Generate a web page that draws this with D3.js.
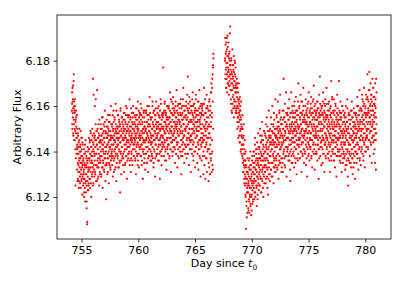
<!DOCTYPE html>
<html>
<head>
<meta charset="utf-8">
<script src="https://cdnjs.cloudflare.com/ajax/libs/d3/7.8.5/d3.min.js"></script>
<style>
  html, body { margin: 0; padding: 0; background: #fff; }
  svg { display: block; font-family: "DejaVu Sans", sans-serif; }
</style>
</head>
<body>
<svg id="chart" width="407" height="285"></svg>
<script>
// ---- Data ----
// Sampling step of each series (days); the B series sit half a step after the A series
const cadence = 1 / 48;
// Start time of each observation segment (days since t0)
const segmentStarts = [754.15, 767.64];
// Segment 1 (754.15 .. 766.62), samples A
const fluxSeg1A = [
6.158,6.166,6.150,6.162,6.155,6.169,6.147,6.159,6.174,6.152,6.160,6.145,6.157,6.163,6.149,6.125,6.154,6.141,6.158,6.151,6.146,6.156,6.143,6.150,
6.141,6.135,6.148,6.131,6.139,6.144,6.127,6.136,6.150,6.133,6.129,6.142,6.137,6.124,6.140,6.132,6.146,6.128,6.135,6.138,6.121,6.134,6.143,6.130,
6.136,6.126,6.131,6.141,6.122,6.134,6.128,6.139,6.118,6.133,6.145,6.127,6.130,6.137,6.115,6.125,6.108,6.109,6.135,6.129,6.140,6.123,6.132,6.126,
6.133,6.141,6.128,6.137,6.145,6.124,6.139,6.131,6.148,6.135,6.120,6.142,6.136,6.129,6.150,6.138,6.133,6.172,6.144,6.126,6.165,6.140,6.132,6.146,
6.138,6.160,6.131,6.145,6.142,6.163,6.127,6.139,6.149,6.134,6.143,6.167,6.136,6.128,6.146,6.141,6.152,6.133,6.139,6.125,6.147,6.137,6.144,6.130,
6.145,6.136,6.150,6.140,6.129,6.147,6.138,6.155,6.133,6.143,6.124,6.148,6.141,6.135,6.152,6.139,6.146,6.131,6.144,6.158,6.137,6.142,6.127,6.149,
6.140,6.119,6.146,6.135,6.151,6.143,6.130,6.148,6.139,6.156,6.137,6.144,6.126,6.149,6.142,6.134,6.153,6.141,6.147,6.132,6.145,6.160,6.138,6.143,
6.147,6.137,6.152,6.141,6.146,6.129,6.150,6.143,6.158,6.136,6.145,6.140,6.155,6.132,6.148,6.144,6.138,6.161,6.142,6.149,6.127,6.146,6.151,6.139,
6.143,6.150,6.138,6.156,6.145,6.133,6.148,6.141,6.153,6.146,6.136,6.151,6.122,6.144,6.159,6.140,6.147,6.130,6.149,6.142,6.155,6.137,6.146,6.152,
6.148,6.139,6.154,6.145,6.131,6.150,6.143,6.157,6.141,6.147,6.135,6.152,6.146,6.160,6.138,6.149,6.144,6.128,6.151,6.142,6.156,6.145,6.137,6.150,
6.144,6.153,6.140,6.147,6.163,6.136,6.149,6.143,6.155,6.131,6.146,6.151,6.139,6.157,6.145,6.148,6.134,6.152,6.141,6.160,6.146,6.138,6.150,6.143,
6.149,6.141,6.156,6.145,6.137,6.152,6.147,6.130,6.154,6.143,6.159,6.148,6.139,6.151,6.144,6.162,6.136,6.150,6.146,6.133,6.155,6.142,6.148,6.157,
6.145,6.152,6.138,6.161,6.147,6.143,6.156,6.134,6.149,6.141,6.153,6.146,6.128,6.150,6.144,6.158,6.139,6.148,6.155,6.137,6.151,6.145,6.132,6.149,
6.150,6.142,6.157,6.146,6.135,6.153,6.148,6.160,6.140,6.147,6.131,6.152,6.144,6.156,6.138,6.149,6.145,6.164,6.141,6.151,6.136,6.148,6.154,6.143,
6.146,6.155,6.139,6.150,6.144,6.162,6.137,6.152,6.147,6.133,6.158,6.145,6.151,6.140,6.149,6.156,6.129,6.148,6.143,6.159,6.146,6.138,6.153,6.150,
6.151,6.141,6.157,6.148,6.136,6.153,6.145,6.160,6.143,6.150,6.139,6.155,6.128,6.149,6.146,6.163,6.140,6.152,6.147,6.134,6.156,6.144,6.150,6.142,
6.147,6.156,6.177,6.143,6.151,6.138,6.158,6.149,6.145,6.162,6.136,6.153,6.148,6.141,6.157,6.150,6.132,6.155,6.146,6.160,6.142,6.151,6.139,6.154,
6.152,6.143,6.159,6.148,6.137,6.155,6.150,6.166,6.141,6.153,6.146,6.131,6.157,6.149,6.162,6.144,6.151,6.138,6.156,6.147,6.164,6.140,6.153,6.145,
6.148,6.158,6.142,6.153,6.135,6.151,6.160,6.146,6.155,6.139,6.150,6.167,6.144,6.152,6.133,6.157,6.149,6.141,6.161,6.147,6.154,6.137,6.150,6.159,
6.153,6.140,6.157,6.149,6.163,6.145,6.151,6.130,6.156,6.143,6.160,6.148,6.138,6.154,6.146,6.168,6.141,6.152,6.147,6.135,6.158,6.150,6.143,6.155,
6.149,6.156,6.142,6.160,6.151,6.137,6.154,6.146,6.165,6.143,6.173,6.152,6.139,6.157,6.148,6.134,6.159,6.150,6.145,6.162,6.141,6.153,6.147,6.131,
6.154,6.145,6.160,6.150,6.139,6.157,6.148,6.166,6.143,6.152,6.136,6.155,6.149,6.161,6.140,6.151,6.158,6.133,6.153,6.146,6.163,6.142,6.150,6.156,
6.147,6.158,6.135,6.153,6.144,6.162,6.149,6.132,6.156,6.141,6.151,6.167,6.138,6.154,6.145,6.160,6.129,6.150,6.143,6.157,6.148,6.136,6.159,6.146,
6.152,6.138,6.161,6.145,6.130,6.156,6.147,6.168,6.134,6.151,6.142,6.163,6.128,6.149,6.157,6.137,6.153,6.144,6.165,6.131,6.150,6.140,6.159,6.146,
6.141,6.155,6.127,6.148,6.162,6.133,6.151,6.139,6.158,6.130,6.146,6.166,6.136,6.153,6.170,6.131,6.157,6.168,6.140,6.174,6.132,6.178,6.183
];
// Segment 1, samples B
const fluxSeg1B = [
6.161,6.152,6.168,6.157,6.163,6.148,6.159,6.171,6.154,6.162,6.145,6.158,6.150,6.160,6.141,6.153,6.137,6.148,6.155,6.139,6.146,6.132,6.142,6.127,
6.139,6.128,6.147,6.134,6.142,6.124,6.137,6.145,6.131,6.140,6.126,6.143,6.135,6.149,6.130,6.138,6.127,6.141,6.146,6.133,6.144,6.129,6.136,6.125,
6.137,6.128,6.132,6.120,6.139,6.135,6.124,6.143,6.130,6.126,6.140,6.122,6.134,6.138,6.118,6.133,6.136,6.127,6.142,6.123,6.131,6.137,6.125,6.141,
6.146,6.132,6.136,6.144,6.128,6.139,6.149,6.133,6.126,6.142,6.138,6.145,6.130,6.140,6.135,6.147,6.131,6.125,6.141,6.143,6.134,6.148,6.129,6.139,
6.136,6.147,6.130,6.142,6.152,6.134,6.145,6.139,6.149,6.127,6.143,6.133,6.150,6.141,6.137,6.146,6.129,6.148,6.135,6.144,6.154,6.131,6.142,6.138,
6.135,6.152,6.144,6.138,6.130,6.147,6.150,6.141,6.145,6.133,6.155,6.136,6.143,6.140,6.149,6.132,6.146,6.151,6.137,6.153,6.139,6.134,6.148,6.142,
6.142,6.148,6.134,6.154,6.146,6.137,6.143,6.151,6.131,6.147,6.150,6.140,6.153,6.135,6.145,6.138,6.156,6.142,6.133,6.149,6.146,6.136,6.152,6.139,
6.140,6.151,6.134,6.146,6.156,6.138,6.149,6.143,6.153,6.131,6.147,6.137,6.154,6.145,6.141,6.150,6.133,6.152,6.139,6.148,6.158,6.135,6.146,6.142,
6.148,6.137,6.156,6.143,6.151,6.133,6.146,6.154,6.140,6.149,6.135,6.152,6.144,6.158,6.139,6.147,6.136,6.150,6.155,6.142,6.153,6.138,6.145,6.134,
6.145,6.151,6.137,6.157,6.149,6.140,6.146,6.154,6.134,6.150,6.153,6.143,6.156,6.138,6.148,6.141,6.159,6.145,6.136,6.152,6.149,6.139,6.155,6.142,
6.139,6.156,6.148,6.142,6.134,6.151,6.154,6.145,6.149,6.137,6.159,6.140,6.147,6.144,6.153,6.136,6.150,6.155,6.141,6.157,6.143,6.138,6.152,6.146,
6.153,6.144,6.148,6.136,6.155,6.151,6.140,6.159,6.146,6.142,6.156,6.138,6.150,6.154,6.134,6.149,6.152,6.143,6.158,6.139,6.147,6.153,6.141,6.157,
6.156,6.142,6.146,6.154,6.138,6.149,6.159,6.143,6.136,6.152,6.148,6.155,6.140,6.150,6.145,6.157,6.141,6.135,6.151,6.153,6.144,6.158,6.139,6.149,
6.150,6.139,6.158,6.145,6.153,6.135,6.148,6.156,6.142,6.151,6.137,6.154,6.146,6.160,6.141,6.149,6.138,6.152,6.157,6.144,6.155,6.140,6.147,6.136,
6.144,6.155,6.138,6.150,6.160,6.142,6.153,6.147,6.157,6.135,6.151,6.141,6.158,6.149,6.145,6.154,6.137,6.156,6.143,6.152,6.162,6.139,6.150,6.146,
6.147,6.153,6.139,6.159,6.151,6.142,6.148,6.156,6.136,6.152,6.155,6.145,6.158,6.140,6.150,6.143,6.161,6.147,6.138,6.154,6.151,6.141,6.157,6.144,
6.155,6.146,6.150,6.138,6.157,6.153,6.142,6.161,6.148,6.144,6.158,6.140,6.152,6.156,6.136,6.151,6.154,6.145,6.160,6.141,6.149,6.155,6.143,6.159,
6.143,6.160,6.152,6.146,6.138,6.155,6.158,6.149,6.153,6.141,6.163,6.144,6.151,6.148,6.157,6.140,6.154,6.159,6.145,6.161,6.147,6.142,6.156,6.150,
6.159,6.145,6.149,6.157,6.141,6.152,6.162,6.146,6.139,6.155,6.151,6.158,6.143,6.153,6.148,6.160,6.144,6.138,6.154,6.156,6.147,6.161,6.142,6.152,
6.153,6.142,6.161,6.148,6.156,6.138,6.151,6.159,6.145,6.154,6.140,6.157,6.149,6.163,6.144,6.152,6.141,6.155,6.160,6.147,6.158,6.143,6.150,6.139,
6.150,6.156,6.142,6.162,6.154,6.145,6.151,6.159,6.139,6.155,6.158,6.148,6.161,6.143,6.153,6.146,6.164,6.150,6.141,6.157,6.154,6.144,6.160,6.147,
6.147,6.158,6.141,6.153,6.163,6.145,6.156,6.150,6.160,6.138,6.154,6.144,6.161,6.152,6.148,6.157,6.140,6.159,6.146,6.155,6.165,6.142,6.153,6.149,
6.156,6.147,6.151,6.139,6.158,6.154,6.143,6.162,6.149,6.145,6.159,6.141,6.153,6.157,6.137,6.152,6.155,6.146,6.161,6.142,6.150,6.156,6.144,6.160,
6.158,6.144,6.148,6.156,6.140,6.151,6.161,6.145,6.138,6.154,6.150,6.157,6.142,6.152,6.147,6.159,6.143,6.137,6.153,6.155,6.146,6.160,6.141,6.151,
6.146,6.158,6.135,6.152,6.141,6.163,6.148,6.130,6.156,6.143,6.160,6.137,6.151,6.166,6.139,6.155,6.145,6.172,6.134,6.162,6.177,6.150,6.181
];
// Segment 2 (767.64 .. 780.98), samples A
const fluxSeg2A = [
6.180,6.190,6.174,6.183,6.168,6.188,6.177,6.172,6.185,6.166,6.179,6.191,6.175,6.170,6.182,6.176,6.165,6.181,6.173,6.184,6.169,6.178,6.195,6.174,
6.176,6.163,6.181,6.170,6.158,6.174,6.167,6.185,6.161,6.172,6.178,6.165,6.169,6.155,6.175,6.162,6.171,6.180,6.159,6.168,6.173,6.157,6.166,6.170,
6.166,6.157,6.172,6.160,6.150,6.168,6.155,6.163,6.146,6.159,6.170,6.153,6.161,6.144,6.156,6.164,6.149,6.158,6.140,6.154,6.162,6.147,6.151,6.143,
6.150,6.141,6.156,6.137,6.146,6.131,6.143,6.152,6.134,6.139,6.126,6.145,6.130,6.136,6.121,6.140,6.128,6.106,6.133,6.118,6.111,6.131,6.124,6.137,
6.122,6.130,6.115,6.127,6.136,6.119,6.125,6.113,6.132,6.121,6.128,6.140,6.117,6.124,6.134,6.120,6.129,6.114,6.126,6.138,6.123,6.131,6.118,6.127,
6.133,6.124,6.140,6.128,6.119,6.135,6.130,6.146,6.122,6.132,6.127,6.141,6.125,6.137,6.116,6.131,6.144,6.129,6.121,6.136,6.148,6.126,6.134,6.139,
6.130,6.141,6.125,6.137,6.150,6.132,6.128,6.144,6.136,6.122,6.139,6.147,6.131,6.153,6.127,6.138,6.133,6.145,6.120,6.136,6.142,6.129,6.149,6.134,
6.140,6.131,6.147,6.136,6.152,6.128,6.142,6.137,6.155,6.133,6.144,6.124,6.139,6.149,6.121,6.141,6.135,6.158,6.130,6.146,6.138,6.127,6.143,6.150,
6.138,6.147,6.132,6.155,6.141,6.129,6.149,6.143,6.160,6.135,6.145,6.139,6.152,6.126,6.144,6.157,6.137,6.148,6.133,6.150,6.142,6.163,6.131,6.146,
6.147,6.138,6.156,6.143,6.133,6.151,6.146,6.162,6.139,6.149,6.128,6.153,6.144,6.136,6.158,6.141,6.150,6.165,6.135,6.147,6.142,6.155,6.131,6.148,
6.143,6.152,6.137,6.158,6.146,6.131,6.150,6.144,6.172,6.140,6.155,6.147,6.134,6.161,6.149,6.138,6.153,6.145,6.166,6.142,6.129,6.151,6.146,6.157,
6.150,6.141,6.159,6.146,6.136,6.154,6.148,6.163,6.139,6.151,6.145,6.132,6.127,6.157,6.143,6.149,6.166,6.138,6.152,6.146,6.160,6.135,6.148,6.155,
6.146,6.157,6.140,6.152,6.133,6.149,6.162,6.144,6.155,6.137,6.150,6.147,6.164,6.141,6.153,6.130,6.148,6.158,6.143,6.151,6.136,6.156,6.170,6.145,
6.151,6.143,6.160,6.148,6.137,6.155,6.146,6.165,6.140,6.152,6.149,6.131,6.157,6.144,6.162,6.150,6.138,6.154,6.147,6.168,6.141,6.153,6.135,6.149,
6.147,6.156,6.139,6.153,6.145,6.163,6.134,6.150,6.158,6.142,6.152,6.129,6.148,6.161,6.144,6.155,6.138,6.151,6.166,6.143,6.149,6.136,6.157,6.146,
6.153,6.141,6.159,6.148,6.164,6.137,6.152,6.145,6.157,6.133,6.150,6.162,6.143,6.155,6.147,6.169,6.139,6.151,6.158,6.132,6.154,6.146,6.161,6.149,
6.148,6.157,6.140,6.154,6.146,6.162,6.136,6.151,6.159,6.143,6.155,6.147,6.128,6.152,6.165,6.141,6.156,6.173,6.149,6.138,6.158,6.144,6.153,6.134,
6.152,6.142,6.160,6.147,6.135,6.156,6.150,6.166,6.139,6.154,6.145,6.161,6.131,6.151,6.157,6.143,6.163,6.148,6.137,6.155,6.146,6.168,6.141,6.150,
6.146,6.155,6.139,6.158,6.149,6.137,6.153,6.144,6.162,6.140,6.151,6.147,6.131,6.156,6.143,6.160,6.148,6.171,6.136,6.152,6.145,6.164,6.141,6.154,
6.150,6.139,6.157,6.145,6.163,6.136,6.152,6.147,6.158,6.133,6.149,6.142,6.160,6.144,6.154,6.129,6.151,6.146,6.165,6.138,6.153,6.141,6.156,6.148,
6.145,6.154,6.171,6.140,6.151,6.136,6.157,6.146,6.162,6.138,6.149,6.143,6.155,6.131,6.148,6.160,6.141,6.152,6.135,6.147,6.158,6.144,6.139,6.153,
6.148,6.137,6.155,6.143,6.132,6.151,6.146,6.160,6.139,6.149,6.134,6.153,6.145,6.163,6.141,6.129,6.150,6.125,6.144,6.157,6.136,6.148,6.140,6.156,
6.143,6.152,6.138,6.158,6.146,6.133,6.150,6.141,6.162,6.137,6.147,6.155,6.130,6.144,6.151,6.139,6.159,6.145,6.135,6.153,6.142,6.148,6.128,6.150,
6.151,6.140,6.157,6.146,6.135,6.154,6.148,6.164,6.139,6.152,6.143,6.160,6.132,6.149,6.156,6.141,6.150,6.167,6.137,6.153,6.145,6.159,6.134,6.147,
6.149,6.158,6.142,6.155,6.165,6.139,6.152,6.146,6.162,6.136,6.154,6.148,6.168,6.143,6.157,6.133,6.151,6.160,6.145,6.156,6.140,6.163,6.150,6.147,
6.157,6.146,6.174,6.152,6.163,6.141,6.158,6.150,6.167,6.145,6.175,6.155,6.138,6.160,6.149,6.170,6.153,6.143,6.165,6.156,6.135,6.162,6.151,6.172,
6.158,6.147,6.168,6.153,6.139,6.161,6.150,6.145,6.164,6.155,6.135,6.170,6.148,6.159,6.132,6.172,6.152
];
// Segment 2, samples B
const fluxSeg2B = [
6.181,6.172,6.187,6.176,6.184,6.168,6.179,6.190,6.174,6.182,6.170,6.186,6.177,6.173,6.188,6.175,6.169,6.183,6.171,6.180,6.192,6.174,6.178,6.167,
6.172,6.161,6.180,6.167,6.175,6.157,6.170,6.178,6.164,6.173,6.159,6.176,6.168,6.182,6.163,6.171,6.160,6.174,6.179,6.166,6.177,6.162,6.169,6.158,
6.168,6.159,6.164,6.153,6.170,6.160,6.155,6.166,6.151,6.162,6.157,6.147,6.163,6.154,6.158,6.144,6.160,6.150,6.155,6.141,6.152,6.147,6.139,6.150,
6.146,6.138,6.150,6.135,6.143,6.131,6.147,6.136,6.128,6.141,6.133,6.139,6.125,6.136,6.129,6.120,6.134,6.126,6.116,6.131,6.122,6.128,6.113,6.125,
6.131,6.122,6.126,6.114,6.133,6.129,6.118,6.137,6.124,6.120,6.134,6.116,6.128,6.132,6.112,6.127,6.130,6.121,6.136,6.117,6.125,6.131,6.119,6.135,
6.140,6.126,6.130,6.138,6.122,6.133,6.143,6.127,6.120,6.136,6.132,6.139,6.124,6.134,6.129,6.141,6.125,6.119,6.135,6.137,6.128,6.142,6.123,6.133,
6.131,6.142,6.125,6.137,6.147,6.129,6.140,6.134,6.144,6.122,6.138,6.128,6.145,6.136,6.132,6.141,6.124,6.143,6.130,6.139,6.149,6.126,6.137,6.133,
6.131,6.148,6.140,6.134,6.126,6.143,6.146,6.137,6.141,6.129,6.151,6.132,6.139,6.136,6.145,6.128,6.142,6.147,6.133,6.149,6.135,6.130,6.144,6.138,
6.140,6.146,6.132,6.152,6.144,6.135,6.141,6.149,6.129,6.145,6.148,6.138,6.151,6.133,6.143,6.136,6.154,6.140,6.131,6.147,6.144,6.134,6.150,6.137,
6.147,6.136,6.155,6.142,6.150,6.132,6.145,6.153,6.139,6.148,6.134,6.151,6.143,6.157,6.138,6.146,6.135,6.149,6.154,6.141,6.152,6.137,6.144,6.133,
6.152,6.143,6.147,6.135,6.154,6.150,6.139,6.158,6.145,6.141,6.155,6.137,6.149,6.153,6.133,6.148,6.151,6.142,6.157,6.138,6.146,6.152,6.140,6.156,
6.156,6.142,6.146,6.154,6.138,6.149,6.159,6.143,6.136,6.152,6.148,6.155,6.140,6.150,6.145,6.157,6.141,6.135,6.151,6.153,6.144,6.158,6.139,6.149,
6.144,6.155,6.138,6.150,6.160,6.142,6.153,6.147,6.157,6.135,6.151,6.141,6.158,6.149,6.145,6.154,6.137,6.156,6.143,6.152,6.162,6.139,6.150,6.146,
6.142,6.159,6.151,6.145,6.137,6.154,6.157,6.148,6.152,6.140,6.162,6.143,6.150,6.147,6.156,6.139,6.153,6.158,6.144,6.160,6.146,6.141,6.155,6.149,
6.148,6.154,6.140,6.160,6.152,6.143,6.149,6.157,6.137,6.153,6.156,6.146,6.159,6.141,6.151,6.144,6.162,6.148,6.139,6.155,6.152,6.142,6.158,6.145,
6.153,6.142,6.161,6.148,6.156,6.138,6.151,6.159,6.145,6.154,6.140,6.157,6.149,6.163,6.144,6.152,6.141,6.155,6.160,6.147,6.158,6.143,6.150,6.139,
6.156,6.147,6.151,6.139,6.158,6.154,6.143,6.162,6.149,6.145,6.159,6.141,6.153,6.157,6.137,6.152,6.155,6.146,6.161,6.142,6.150,6.156,6.144,6.160,
6.159,6.145,6.149,6.157,6.141,6.152,6.162,6.146,6.139,6.155,6.151,6.158,6.143,6.153,6.148,6.160,6.144,6.138,6.154,6.156,6.147,6.161,6.142,6.152,
6.145,6.156,6.139,6.151,6.161,6.143,6.154,6.148,6.158,6.136,6.152,6.142,6.159,6.150,6.146,6.155,6.138,6.157,6.144,6.153,6.163,6.140,6.151,6.147,
6.141,6.158,6.150,6.144,6.136,6.153,6.156,6.147,6.151,6.139,6.161,6.142,6.149,6.146,6.155,6.138,6.152,6.157,6.143,6.159,6.145,6.140,6.154,6.148,
6.146,6.152,6.138,6.158,6.150,6.141,6.147,6.155,6.135,6.151,6.154,6.144,6.157,6.139,6.149,6.142,6.160,6.146,6.137,6.153,6.150,6.140,6.156,6.143,
6.149,6.138,6.157,6.144,6.152,6.134,6.147,6.155,6.141,6.150,6.136,6.153,6.145,6.159,6.140,6.148,6.137,6.151,6.156,6.143,6.154,6.139,6.146,6.135,
6.152,6.143,6.147,6.135,6.154,6.150,6.139,6.158,6.145,6.141,6.155,6.137,6.149,6.153,6.133,6.148,6.151,6.142,6.157,6.138,6.146,6.152,6.140,6.156,
6.157,6.143,6.147,6.155,6.139,6.150,6.160,6.144,6.137,6.153,6.149,6.156,6.141,6.151,6.146,6.158,6.142,6.136,6.152,6.154,6.145,6.159,6.140,6.150,
6.147,6.158,6.141,6.153,6.163,6.145,6.156,6.150,6.160,6.138,6.154,6.144,6.161,6.152,6.148,6.157,6.140,6.159,6.146,6.155,6.165,6.142,6.153,6.149,
6.147,6.164,6.156,6.150,6.142,6.159,6.162,6.153,6.157,6.145,6.167,6.148,6.155,6.152,6.161,6.144,6.158,6.163,6.149,6.165,6.151,6.146,6.160,6.154,
6.152,6.158,6.144,6.164,6.156,6.147,6.153,6.161,6.141,6.157,6.160,6.150,6.163,6.145,6.155,6.148,6.166
];
const xTicks = [755, 760, 765, 770, 775, 780];
const yTicks = [6.12, 6.14, 6.16, 6.18];
const xLabel = "Day since ";
const yLabel = "Arbitrary Flux";

// ---- Build points ----
const points = [];
[[fluxSeg1A, fluxSeg1B], [fluxSeg2A, fluxSeg2B]].forEach(([a, b], s) => {
  a.forEach((v, i) => points.push({ t: segmentStarts[s] + i * cadence, f: v }));
  b.forEach((v, i) => points.push({ t: segmentStarts[s] + (i + 0.5) * cadence, f: v }));
});

// ---- Layout ----
const svg = d3.select("#chart");
const L = 57, R = 391, T = 15, B = 239;

const x = d3.scaleLinear().domain([752.84, 782.26]).range([L, R]);
const y = d3.scaleLinear().domain([6.1015, 6.2001]).range([B, T]);

// points
svg.append("g")
  .selectAll("circle")
  .data(points)
  .join("circle")
  .attr("cx", d => x(d.t))
  .attr("cy", d => y(d.f))
  .attr("r", 1.1)
  .attr("fill", "#ff0000");

// frame
svg.append("rect")
  .attr("x", L).attr("y", T)
  .attr("width", R - L).attr("height", B - T)
  .attr("fill", "none").attr("stroke", "#000").attr("stroke-width", 0.8);

// axes
const xAxis = d3.axisBottom(x).tickValues(xTicks).tickFormat(d3.format("d"))
  .tickSize(3.5).tickPadding(3.5);
const yAxis = d3.axisLeft(y).tickValues(yTicks).tickFormat(d3.format(".2f"))
  .tickSize(3.5).tickPadding(3.5);

const gx = svg.append("g").attr("transform", `translate(0,${B})`).call(xAxis);
const gy = svg.append("g").attr("transform", `translate(${L},0)`).call(yAxis);
[gx, gy].forEach(g => {
  g.select(".domain").remove();
  g.selectAll(".tick line").attr("stroke", "#000").attr("stroke-width", 0.8);
  g.selectAll(".tick text").attr("fill", "#000")
    .style("font-family", "'DejaVu Sans', sans-serif").style("font-size", "11px");
});

// x label
const xl = svg.append("text")
  .attr("x", (L + R) / 2).attr("y", 267)
  .attr("text-anchor", "middle")
  .style("font-size", "11px").attr("fill", "#000");
xl.append("tspan").text(xLabel);
xl.append("tspan").style("font-style", "italic").text("t");
xl.append("tspan").attr("dy", 2.5).style("font-size", "7.5px").text("0");

// y label
svg.append("text")
  .attr("transform", `translate(21,${(T + B) / 2}) rotate(-90)`)
  .attr("text-anchor", "middle")
  .style("font-size", "11px").attr("fill", "#000")
  .text(yLabel);
</script>
</body>
</html>
